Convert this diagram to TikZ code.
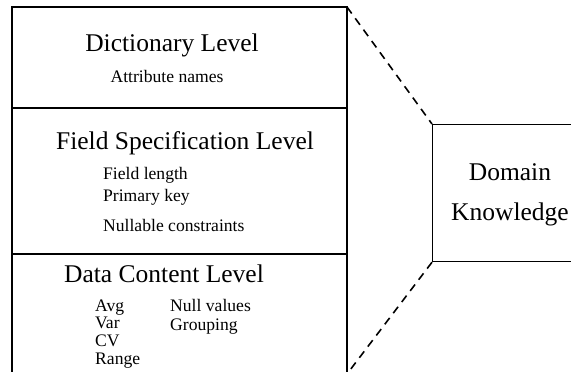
\documentclass[tikz,border=0pt]{standalone}
\usepackage{fontspec}
\setmainfont{Liberation Serif}
\begin{document}
\begin{tikzpicture}[x=1pt,y=-1pt,
  frame/.style={draw=black, line width=1.2pt},
  link/.style={draw=black, line width=1.6pt, dash pattern=on 8pt off 6pt},
  head/.style={font=\fontsize{25.5}{30}\selectfont, inner sep=0pt, anchor=base},
  item/.style={font=\fontsize{17.6}{20}\selectfont, inner sep=0pt, anchor=base west}]
\useasboundingbox (0,0) rectangle (571,372);
\clip (0,0) rectangle (571,372);

% stacked metadata levels
\coordinate (lnw) at (12,7);
\coordinate (lne) at (347,7);
\coordinate (lsw) at (12,374);
\coordinate (lse) at (347,374);
\coordinate (d1w) at (12,108);
\coordinate (d1e) at (347,108);
\coordinate (d2w) at (12,254);
\coordinate (d2e) at (347,254);
\draw[frame] (lnw) rectangle (lse);
\draw[frame] (d1w) -- (d1e);
\draw[frame] (d2w) -- (d2e);

% domain knowledge box
\node[frame, anchor=north west, minimum width=160pt, minimum height=137pt, inner sep=0pt] (dk) at (432,124) {};
\draw[link] (lne) -- (dk.north west);
\draw[link] (dk.south west) -- (lse);

% level texts
\node[head] (t1) at (172,52) {Dictionary Level};
\node[item, anchor=base] (t1a) at (167,82) {Attribute names};

\node[head] (t2) at (185,149) {Field Specification Level};
\node[item] (t2a) at (103,179) {Field length};
\node[item] (t2b) at (103,201) {Primary key};
\node[item] (t2c) at (103,231) {Nullable constraints};

\node[head] (t3) at (164,282) {Data Content Level};
\node[item] (t3a) at (95,311) {Avg};
\node[item] (t3b) at (95,328) {Var};
\node[item] (t3c) at (95,346) {CV};
\node[item] (t3d) at (95,364) {Range};
\node[item] (t3e) at (170,311) {Null values};
\node[item] (t3f) at (170,330) {Grouping};

\node[head] (dk1) at (510,180) {Domain};
\node[head] (dk2) at (510,220) {Knowledge};
\end{tikzpicture}
\end{document}
